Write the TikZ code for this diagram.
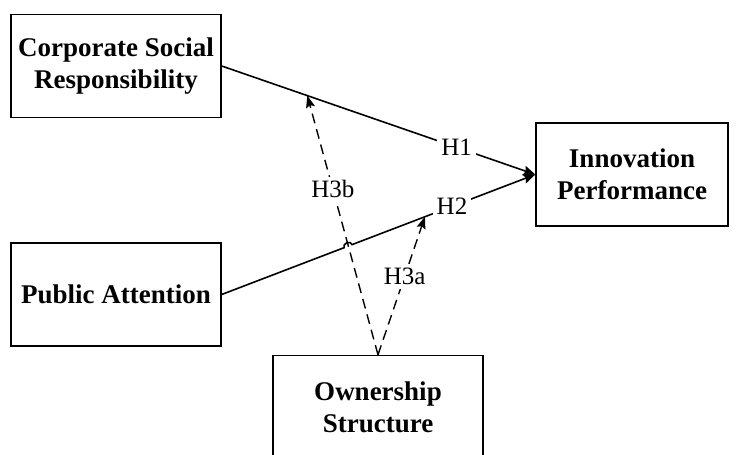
\documentclass[tikz,border=0pt]{standalone}
\usepackage{fontspec}
\setmainfont{Liberation Serif}
\usetikzlibrary{arrows.meta}

\begin{document}
\begin{tikzpicture}[x=0.5pt,y=-0.5pt]
        \useasboundingbox (0,0) rectangle (737,454);
        \clip (0,0) rectangle (737,454);

        % boxes
        \begin{scope}[every node/.style={draw, line width=0.7pt, align=center, minimum height=51.5pt,
                      font=\fontsize{13.5}{16}\selectfont\bfseries}]
          \node[minimum width=105pt] (csr) at (116,66)    {Corporate Social\\Responsibility};
          \node[minimum width=105pt] (pa)  at (116,294.5) {Public Attention};
          \node[minimum width=96pt]  (ip)  at (632,174.5) {Innovation\\Performance};
          \node[minimum width=105pt] (os)  at (378,407)   {Ownership\\Structure};
        \end{scope}

        % points on the paths
        \path (csr.east) -- (ip.west) coordinate[pos=0.273] (h3b);
        \path (pa.east) -- (ip.west) coordinate[pos=0.390] (hopl)
                                     coordinate[pos=0.416] (hopr)
                                     coordinate[pos=0.648] (h3a);

        \begin{scope}[every node/.style={fill=white, inner sep=2pt, font=\fontsize{12.5}{14}\selectfont}]
          \begin{scope}[line width=0.8pt, -{Stealth[length=6pt,width=5pt,inset=1pt]}]
            \draw (csr.east) -- node[pos=0.749] {H1} (ip.west);
            \draw (pa.east) -- (hopl) to[out=111,in=111,looseness=1.4] (hopr) -- node[pos=0.545] {H2} (ip.west);
          \end{scope}
          \begin{scope}[line width=0.7pt, dash pattern=on 5pt off 3pt, -{Stealth[length=6pt,width=4.5pt,inset=1pt]}]
            \draw (os.north) -- node[pos=0.638] {H3b} (h3b);
            \draw (os.north) -- node[pos=0.567] {H3a} (h3a);
          \end{scope}
        \end{scope}

\end{tikzpicture}
\end{document}
